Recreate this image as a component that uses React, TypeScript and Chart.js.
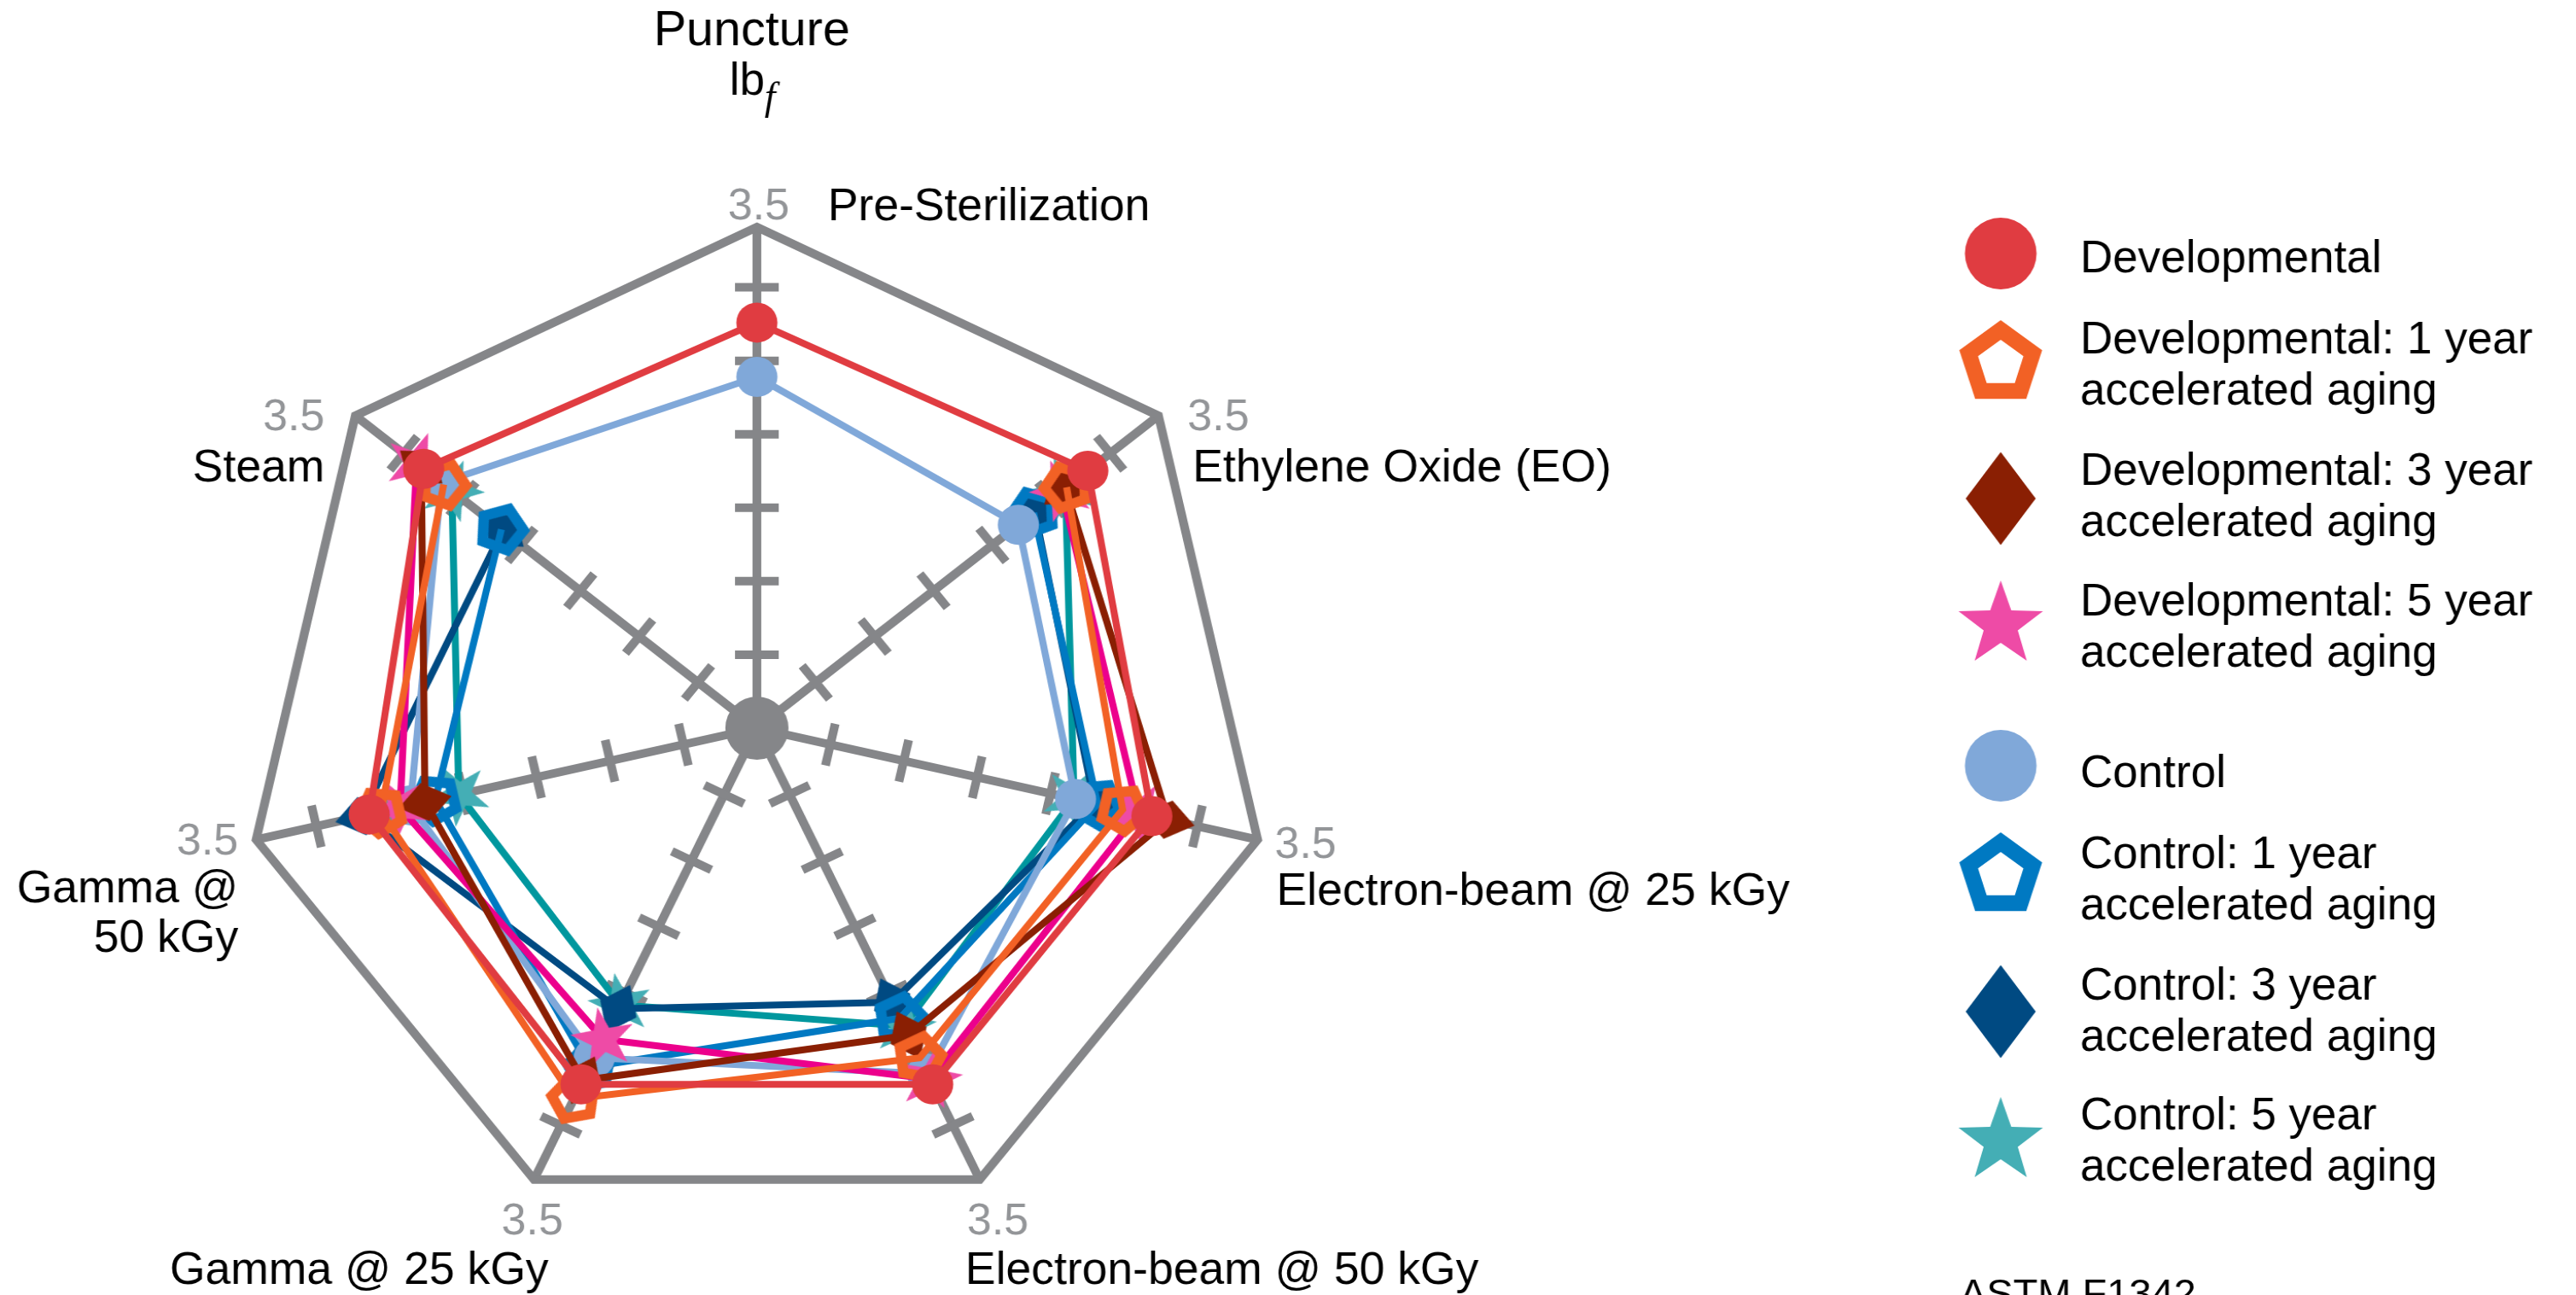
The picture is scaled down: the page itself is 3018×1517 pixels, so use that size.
import React, { useEffect, useRef } from 'react';
import { Chart, registerables } from 'chart.js';

Chart.register(...registerables);

// ---------------- data ----------------
const axisLabels: string[][] = [
  ['Pre-Sterilization'],
  ['Ethylene Oxide (EO)'],
  ['Electron-beam @ 25 kGy'],
  ['Electron-beam @ 50 kGy'],
  ['Gamma @ 25 kGy'],
  ['Gamma @', '50 kGy'],
  ['Steam'],
];
const axisEndLabel = '3.5';
const scaleMax = 3.41;
const tickValues = [0.5, 1, 1.5, 2, 2.5, 3];
const titleText = 'Puncture';
const unitMain = 'lb';
const unitSub = 'f';
const footnote = 'ASTM F1342';

const developmental = [2.76, 2.81, 2.69, 2.69, 2.69, 2.64, 2.83];
const developmental1yr = [null, 2.63, 2.49, 2.49, 2.8, 2.56, 2.66];
const developmental3yr = [null, 2.62, 2.8, 2.32, 2.66, 2.26, 2.85];
const developmental5yr = [null, 2.59, 2.6, 2.65, 2.35, 2.43, 2.89];
const control = [2.39, 2.22, 2.17, 2.61, 2.49, 2.36, 2.68];
const control1yr = [null, 2.35, 2.32, 2.19, 2.56, 2.19, 2.17];
const control3yr = [null, 2.36, 2.3, 2.07, 2.12, 2.69, 2.16];
const control5yr = [null, 2.62, 2.16, 2.25, 2.09, 2.03, 2.59];

const seriesLabels: string[][] = [
  ['Developmental'],
  ['Developmental: 1 year', 'accelerated aging'],
  ['Developmental: 3 year', 'accelerated aging'],
  ['Developmental: 5 year', 'accelerated aging'],
  ['Control'],
  ['Control: 1 year', 'accelerated aging'],
  ['Control: 3 year', 'accelerated aging'],
  ['Control: 5 year', 'accelerated aging'],
];
const seriesData = [
  developmental, developmental1yr, developmental3yr, developmental5yr,
  control, control1yr, control3yr, control5yr,
];

// ---------------- styles ----------------
const markerColors = ['#E03C41', '#F26125', '#8A1F03', '#EE4BA6', '#80A8D9', '#0079C2', '#004A82', '#44AEB5'];
const lineColors = ['#E03C41', '#F26125', '#8A1F03', '#EC008C', '#80A8D9', '#0079C2', '#004A82', '#00979E'];
type Kind = 'circle' | 'pentagon' | 'diamond' | 'star';
const markerKinds: Kind[] = ['circle', 'pentagon', 'diamond', 'star', 'circle', 'pentagon', 'diamond', 'star'];
const chartMarkerSize: Record<Kind, [number, number]> = {
  circle: [23.5, 0], pentagon: [33, 18], diamond: [46, 62], star: [38, 15],
};
const legendMarkerSize: Record<Kind, [number, number]> = {
  circle: [42, 0], pentagon: [51, 28], diamond: [82, 109], star: [52, 21],
};
const GRAY = '#858689';
const LIGHT_GRAY = '#939598';
const FONT = '"Liberation Sans", Arial, Helvetica, sans-serif';

const W = 3018;
const H = 1517;
const K = 1.02514; // horizontal stretch of the drawing
const CW = Math.round(W / K);

const valPos = [
  { dx: 2, dy: -9, al: 'center' }, { dx: 34, dy: 17, al: 'left' }, { dx: 20, dy: 21, al: 'left' },
  { dx: -15, dy: 64, al: 'left' }, { dx: -2, dy: 64, al: 'center' }, { dx: -21, dy: 17, al: 'right' },
  { dx: -36, dy: 17, al: 'right' },
];
const namePos = [
  { dx: 83, dy: -8, al: 'left' }, { dx: 40, dy: 77, al: 'left' }, { dx: 22, dy: 76, al: 'left' },
  { dx: -17, dy: 122, al: 'left' }, { dx: 17, dy: 122, al: 'right' }, { dx: -21, dy: 73, al: 'right' },
  { dx: -36, dy: 77, al: 'right' },
];
const legendMarkerX = 2344;
const legendTextX = 2437;
const legendMarkerY = [297, 426, 584, 732, 897, 1026, 1185, 1337];
const legendTextY = [[319], [414, 474], [568, 628], [721, 781], [922], [1017, 1077], [1171, 1231], [1323, 1383]];

function tracePath(ctx: CanvasRenderingContext2D, kind: Kind, a: number, b: number) {
  ctx.beginPath();
  if (kind === 'circle') {
    ctx.arc(0, 0, a, 0, Math.PI * 2);
  } else if (kind === 'pentagon') {
    for (const R of [a, b]) {
      for (let i = 0; i < 5; i++) {
        const t = -Math.PI / 2 + (i * 2 * Math.PI) / 5;
        const x = R * Math.cos(t);
        const y = R * Math.sin(t);
        if (i) ctx.lineTo(x, y); else ctx.moveTo(x, y);
      }
      ctx.closePath();
    }
  } else if (kind === 'diamond') {
    ctx.moveTo(0, -b / 2);
    ctx.lineTo(a / 2, 0);
    ctx.lineTo(0, b / 2);
    ctx.lineTo(-a / 2, 0);
    ctx.closePath();
  } else {
    for (let i = 0; i < 10; i++) {
      const R = i % 2 ? b : a;
      const t = -Math.PI / 2 + (i * Math.PI) / 5;
      const x = R * Math.cos(t);
      const y = R * Math.sin(t);
      if (i) ctx.lineTo(x, y); else ctx.moveTo(x, y);
    }
    ctx.closePath();
  }
}

function drawMarker(ctx: CanvasRenderingContext2D, kind: Kind, x: number, y: number, a: number, b: number, color: string) {
  ctx.save();
  ctx.translate(x, y);
  tracePath(ctx, kind, a, b);
  ctx.fillStyle = color;
  ctx.fill('evenodd');
  ctx.restore();
}

function markerCanvas(kind: Kind, a: number, b: number, color: string) {
  const ext = kind === 'diamond' ? Math.max(a, b) / 2 : a;
  const size = Math.ceil(ext * 2 + 4);
  const c = document.createElement('canvas');
  c.width = size;
  c.height = size;
  const cx = c.getContext('2d') as CanvasRenderingContext2D;
  drawMarker(cx, kind, size / 2, size / 2, a, b, color);
  return c;
}

const decorPlugin = {
  id: 'decor',
  beforeDatasetsDraw(chart: any) {
    const s = chart.scales.r;
    const ctx: CanvasRenderingContext2D = chart.ctx;
    const n = axisLabels.length;
    ctx.save();
    ctx.strokeStyle = GRAY;
    ctx.lineWidth = 10;
    ctx.lineJoin = 'miter';
    ctx.beginPath();
    for (let i = 0; i < n; i++) {
      const p = s.getPointPosition(i, s.drawingArea);
      if (i) ctx.lineTo(p.x, p.y); else ctx.moveTo(p.x, p.y);
    }
    ctx.closePath();
    ctx.stroke();
    ctx.lineCap = 'butt';
    for (let i = 0; i < n; i++) {
      const ang = s.getIndexAngle(i) - Math.PI / 2;
      const ux = Math.cos(ang);
      const uy = Math.sin(ang);
      for (const v of tickValues) {
        const d = s.getDistanceFromCenterForValue(v);
        const cx = s.xCenter + ux * d;
        const cy = s.yCenter + uy * d;
        ctx.beginPath();
        ctx.moveTo(cx - uy * 25, cy + ux * 25);
        ctx.lineTo(cx + uy * 25, cy - ux * 25);
        ctx.stroke();
      }
    }
    ctx.scale(1 / K, 1);
    ctx.beginPath();
    ctx.arc(s.xCenter * K, s.yCenter, 37, 0, Math.PI * 2);
    ctx.fillStyle = GRAY;
    ctx.fill();
    ctx.restore();
  },
  afterDraw(chart: any) {
    const s = chart.scales.r;
    const ctx: CanvasRenderingContext2D = chart.ctx;
    const n = axisLabels.length;
    ctx.save();
    ctx.scale(1 / K, 1);
    const cx = s.xCenter * K;
    ctx.textBaseline = 'alphabetic';
    ctx.fillStyle = '#000';
    ctx.font = `57.5px ${FONT}`;
    ctx.textAlign = 'center';
    ctx.fillText(titleText, cx - 6, 53);
    ctx.textAlign = 'left';
    ctx.font = `53px ${FONT}`;
    ctx.fillText(unitMain, cx - 32, 111);
    ctx.font = `italic 46px "Liberation Serif", serif`;
    ctx.fillText(unitSub, cx + 9, 128);

    for (let i = 0; i < n; i++) {
      const p = s.getPointPosition(i, s.drawingArea);
      const vx = p.x * K;
      const vy = p.y;
      ctx.font = `52px ${FONT}`;
      ctx.fillStyle = LIGHT_GRAY;
      ctx.textAlign = valPos[i].al as CanvasTextAlign;
      ctx.fillText(axisEndLabel, vx + valPos[i].dx, vy + valPos[i].dy);
      ctx.font = `53.5px ${FONT}`;
      ctx.fillStyle = '#000';
      ctx.textAlign = namePos[i].al as CanvasTextAlign;
      axisLabels[i].forEach((line, j) => {
        ctx.fillText(line, vx + namePos[i].dx, vy + namePos[i].dy + j * 58);
      });
    }

    for (let k = 0; k < seriesLabels.length; k++) {
      const kind = markerKinds[k];
      const [a, b] = legendMarkerSize[kind];
      drawMarker(ctx, kind, legendMarkerX, legendMarkerY[k], a, b, markerColors[k]);
      ctx.font = `53px ${FONT}`;
      ctx.fillStyle = '#000';
      ctx.textAlign = 'left';
      seriesLabels[k].forEach((line, j) => {
        ctx.fillText(line, legendTextX, legendTextY[k][j]);
      });
    }
    ctx.font = `47px ${FONT}`;
    ctx.fillText(footnote, 2296, 1531);
    ctx.restore();
  },
};

export default function App() {
  const ref = useRef<HTMLCanvasElement>(null);
  useEffect(() => {
    const canvas = ref.current as HTMLCanvasElement;
    const n = axisLabels.length;
    const datasets = seriesData.map((data, k) => {
      const kind = markerKinds[k];
      const [a, b] = chartMarkerSize[kind];
      const style: any = kind === 'circle' ? 'circle' : markerCanvas(kind, a, b, markerColors[k]);
      return {
        label: seriesLabels[k].join(' '),
        data,
        borderColor: lineColors[k],
        backgroundColor: 'rgba(0,0,0,0)',
        borderWidth: 8,
        fill: false,
        spanGaps: false,
        pointStyle: style,
        pointRadius: kind === 'circle' ? a : 20,
        pointHoverRadius: kind === 'circle' ? a : 20,
        pointBackgroundColor: markerColors[k],
        pointBorderColor: markerColors[k],
        pointBorderWidth: 0,
        pointRotation: (c: any) => (c.dataIndex * 360) / n,
      };
    });
    const chart = new Chart(canvas, {
      type: 'radar',
      data: { labels: axisLabels.map((l) => l.join(' ')), datasets: datasets as any },
      options: {
        responsive: false,
        animation: false,
        devicePixelRatio: 1,
        layout: { padding: { left: 278, top: 266, right: CW - 278 - 1174, bottom: H - 266 - 1174 } },
        plugins: { legend: { display: false }, tooltip: { enabled: false } },
        elements: { line: { tension: 0 } },
        scales: {
          r: {
            min: 0,
            max: scaleMax,
            ticks: { display: false, stepSize: 0.5 },
            grid: { display: false },
            angleLines: { display: true, color: GRAY, lineWidth: 10 },
            pointLabels: { display: false },
          },
        },
      } as any,
      plugins: [decorPlugin],
    });
    return () => chart.destroy();
  }, []);
  return (
    <canvas
      ref={ref}
      width={CW}
      height={H}
      style={{ position: 'fixed', left: 0, top: 0, width: `${W}px`, height: `${H}px`, display: 'block' }}
    />
  );
}
